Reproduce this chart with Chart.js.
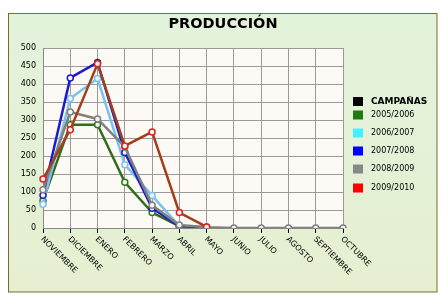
<!DOCTYPE html>
<html><head><meta charset="utf-8">
<script src="https://cdn.jsdelivr.net/npm/chart.js@4/dist/chart.umd.min.js"></script>
<style>html,body{margin:0;padding:0;background:#fff;}#wrap{width:448px;height:306px;}</style>
</head><body><div id="wrap"><canvas id="c" width="448" height="306"></canvas></div>
<script>
const months = ['NOVIEMBRE','DICIEMBRE','ENERO','FEBRERO','MARZO','ABRIL','MAYO','JUNIO','JULIO','AGOSTO','SEPTIEMBRE','OCTUBRE'];
const s0506 = [76, 287, 287, 127, 43, 5, 0, null, null, null, null, null];
const s0607 = [66, 360, 415, 176, 90, 5, 0, null, null, null, null, null];
const s0708 = [91, 417, 460, 210, 55, 5, 2, null, null, null, null, null];
const s0809 = [106, 322, 303, 225, 63, 8, 2, 0, 0, 0, 0, 0];
const s0910 = [136, 273, 456, 228, 267, 43, 3, null, null, null, null, null];
const seriesNames = ['2005/2006','2006/2007','2007/2008','2008/2009','2009/2010'];
const legendTitle = 'CAMPAÑAS';
const titleText = 'PRODUCCIÓN';
const yTicks = [0,50,100,150,200,250,300,350,400,450,500];

const lineColors = ['#2f6e1c','#7cc2ee','#1c1ccc','#808080','#a2401e'];
const markColors = ['#2f7a1c','#7cc2ee','#1c1ccc','#808080','#e02020'];
const legColors = ['#1e7a12','#44f0ff','#0000ff','#888888','#ff0000'];
const allData = [s0506, s0607, s0708, s0809, s0910];

const bgPlugin = {
  id: 'bg',
  beforeDraw(chart) {
    const ctx = chart.ctx, a = chart.chartArea;
    ctx.save();
    const g = ctx.createLinearGradient(0, 13, 0, 292);
    g.addColorStop(0, '#e2f3dc');
    g.addColorStop(1, '#e6efd0');
    ctx.fillStyle = g;
    ctx.fillRect(8.5, 13.5, 428.5, 278.5);
    ctx.strokeStyle = '#7a6a2e';
    ctx.lineWidth = 1;
    ctx.strokeRect(8.5, 13.5, 428.5, 278.5);
    ctx.fillStyle = '#fdfaf6';
    ctx.fillRect(a.left, a.top, a.right - a.left, a.bottom - a.top);
    ctx.fillStyle = '#000';
    ctx.font = 'bold 14.5px "DejaVu Sans"';
    ctx.textAlign = 'center';
    ctx.textBaseline = 'middle';
    ctx.fillText(titleText, 223, 24);
    ctx.restore();
  },
  afterDraw(chart) {
    const ctx = chart.ctx, a = chart.chartArea, xs = chart.scales.x;
    ctx.save();
    ctx.fillStyle = '#000';
    ctx.font = '8px "DejaVu Sans"';
    ctx.textAlign = 'left';
    ctx.textBaseline = 'middle';
    months.forEach((m, i) => {
      const x = xs.getPixelForValue(i);
      ctx.save();
      ctx.translate(x - 1, a.bottom + 10);
      ctx.rotate(Math.PI / 4);
      ctx.fillText(m, 0, 0);
      ctx.restore();
    });
    const lx = 353, tx = 371;
    ctx.fillStyle = '#000';
    ctx.fillRect(lx, 97, 10, 9);
    ctx.font = 'bold 9px "DejaVu Sans"';
    ctx.fillText(legendTitle, tx, 101.5);
    ctx.font = '8px "DejaVu Sans"';
    const ys = [115, 133, 151, 169, 188];
    chart.data.datasets.forEach((ds, i) => {
      ctx.fillStyle = legColors[i];
      ctx.fillRect(lx, ys[i] - 4.5, 10, 9);
      ctx.fillStyle = '#000';
      ctx.fillText(ds.label, tx, ys[i]);
    });
    ctx.restore();
  }
};

new Chart(document.getElementById('c'), {
  type: 'line',
  data: {
    labels: months,
    datasets: allData.map((d, i) => ({
      label: seriesNames[i],
      data: d,
      order: 5 - i,
      borderColor: lineColors[i],
      borderWidth: 2.5,
      pointRadius: 3,
      pointBorderWidth: 1.5,
      pointBorderColor: markColors[i],
      pointBackgroundColor: '#f4f4f0',
      tension: 0,
      spanGaps: false
    }))
  },
  options: {
    responsive: false,
    animation: false,
    layout: { padding: { left: 0, right: 105, top: 48, bottom: 0 } },
    plugins: {
      legend: { display: false },
      tooltip: { enabled: false },
      title: { display: false }
    },
    scales: {
      x: {
        offset: false,
        grid: { color: '#9a9a9a', lineWidth: 1, drawTicks: true, tickLength: 5, tickColor: '#000' },
        border: { color: '#888' },
        ticks: { display: false },
        afterFit(s) { s.height = 78; }
      },
      y: {
        min: 0, max: 500,
        afterBuildTicks(s) { s.ticks = yTicks.map(v => ({ value: v })); },
        grid: { color: '#9a9a9a', lineWidth: 1, drawTicks: false },
        border: { color: '#888' },
        ticks: { color: '#000', font: { family: 'DejaVu Sans', size: 8 }, padding: 7 },
        afterFit(s) { s.width = 43; }
      }
    }
  },
  plugins: [bgPlugin]
});
</script>
</body></html>
